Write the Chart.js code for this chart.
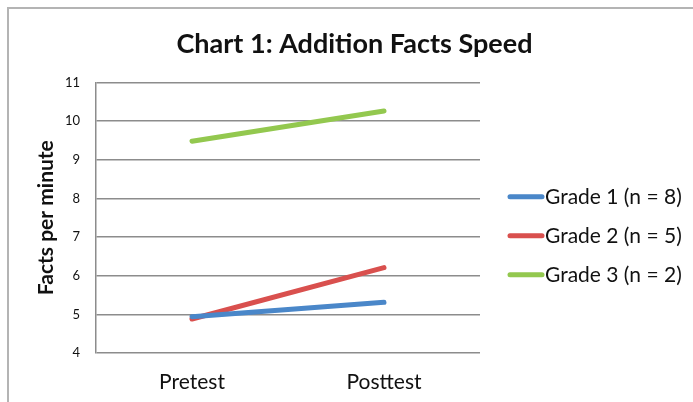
<!DOCTYPE html>
<html>
<head>
<meta charset="utf-8">
<script src="https://cdn.jsdelivr.net/npm/chart.js@4"></script>
<style>
  html, body { margin: 0; padding: 0; background: #fff; }
  #wrap { position: relative; width: 693px; height: 402px; }
  #frame { position: absolute; left: 7px; top: 7px; right: -4px; bottom: -4px;
           border-left: 2px solid #b4b4b4; border-top: 2px solid #b4b4b4; }
  canvas { position: absolute; left: 0; top: 0; }
</style>
</head>
<body>
<div id="wrap">
  <div id="frame"></div>
  <canvas id="speedChart" width="693" height="402"></canvas>
</div>
<script>
const categories = ['Pretest', 'Posttest'];
const seriesNames = ['Grade 1 (n = 8)', 'Grade 2 (n = 5)', 'Grade 3 (n = 2)'];
const grade1 = [4.94, 5.31];
const grade2 = [4.88, 6.21];
const grade3 = [9.48, 10.26];
const seriesColors = ['#4a87c9', '#d9504e', '#93c84f'];

const fontFamily = 'Lato, "Open Sans", sans-serif';

function makeDataset(i, values) {
  return {
    label: seriesNames[i],
    data: values,
    borderColor: seriesColors[i],
    backgroundColor: seriesColors[i],
    borderWidth: 5,
    borderCapStyle: 'round',
    pointRadius: 0,
    pointHoverRadius: 0,
    tension: 0
  };
}

// legend drawn to the right of the plot, line swatch right before the text
const sideLegend = {
  id: 'sideLegend',
  afterDraw(chart) {
    const c = chart.ctx;
    const area = chart.chartArea;
    const x0 = area.right + 28;
    const midY = (area.top + area.bottom) / 2 + 18;
    const step = 39;
    c.save();
    c.font = '21px ' + fontFamily;
    c.textBaseline = 'middle';
    c.fillStyle = '#111';
    chart.data.datasets.forEach(function(ds, i) {
      const y = midY + (i - 1) * step;
      c.strokeStyle = ds.borderColor;
      c.lineWidth = 5;
      c.lineCap = 'round';
      c.beginPath();
      c.moveTo(x0 + 2, y);
      c.lineTo(x0 + 34, y);
      c.stroke();
      c.fillText(ds.label, x0 + 37, y + 1);
    });
    c.restore();
  }
};

function drawChart() {
  const ctx = document.getElementById('speedChart').getContext('2d');
  new Chart(ctx, {
    type: 'line',
    data: {
      labels: categories,
      datasets: [makeDataset(0, grade1), makeDataset(1, grade2), makeDataset(2, grade3)]
    },
    plugins: [sideLegend],
    options: {
      responsive: false,
      animation: false,
      layout: { padding: { left: 16, right: 0, top: 0, bottom: 0 } },
      plugins: {
        title: {
          display: true,
          text: 'Chart 1: Addition Facts Speed',
          color: '#111',
          font: { family: fontFamily, size: 27, weight: 'bold' },
          padding: { top: 28, bottom: 22 }
        },
        legend: { display: false },
        tooltip: { enabled: false }
      },
      scales: {
        x: {
          offset: true,
          grid: { display: false, drawTicks: false },
          border: { display: false },
          ticks: { color: '#111', font: { family: fontFamily, size: 21 }, padding: 17 },
          afterFit: function(scale) { scale.height = 49; }
        },
        y: {
          min: 4,
          max: 11,
          ticks: { stepSize: 1, color: '#111', font: { family: fontFamily, size: 13 }, padding: 16 },
          grid: { color: '#8c8c8c', lineWidth: 1.5, drawTicks: false },
          border: { display: true, color: '#8c8c8c', width: 1.5 },
          title: {
            display: true,
            text: 'Facts per minute',
            color: '#111',
            font: { family: fontFamily, size: 21, weight: 'bold' },
            padding: { top: 18, bottom: 0 }
          },
          afterFit: function(scale) { scale.width = 80; }
        },
        // empty right-hand axis that reserves room for the legend
        side: {
          type: 'linear',
          position: 'right',
          min: 4,
          max: 11,
          grid: { display: false },
          border: { display: false },
          ticks: { display: false },
          afterFit: function(scale) { scale.width = 213; }
        }
      }
    }
  });
}

document.fonts.load('21px Lato').then(drawChart, drawChart);
</script>
</body>
</html>
